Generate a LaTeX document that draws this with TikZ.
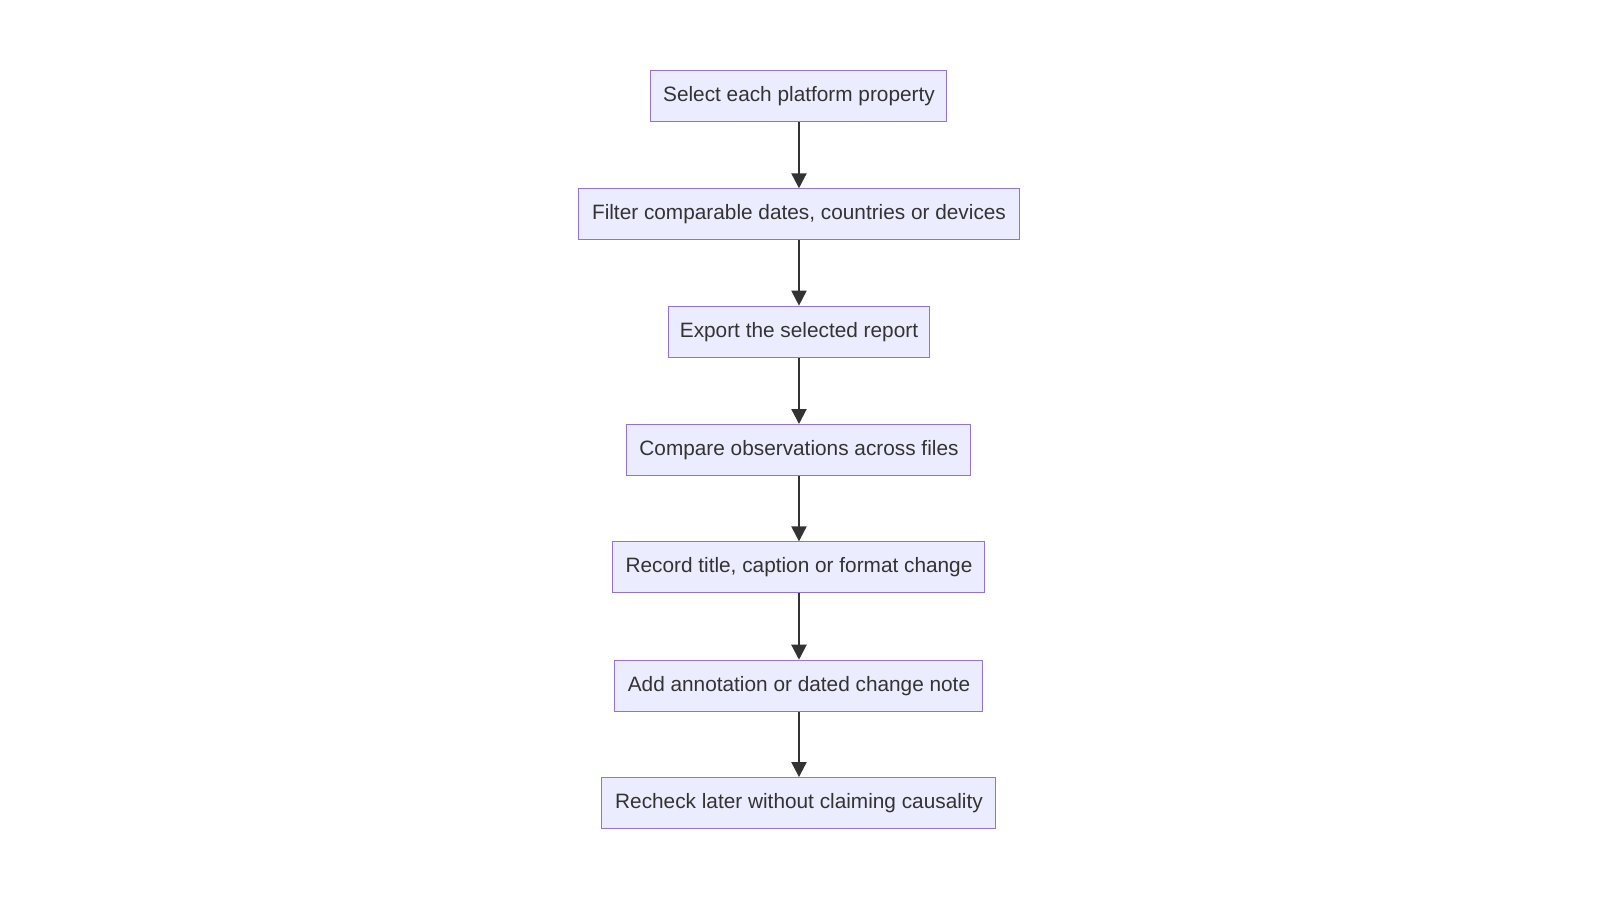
\documentclass[tikz,border=0pt]{standalone}
\usepackage{fontspec}
\setmainfont{Liberation Sans}
\usetikzlibrary{arrows.meta}
\definecolor{bfill}{HTML}{ECECFF}
\definecolor{bdraw}{HTML}{9370DB}
\definecolor{arr}{HTML}{333333}
\begin{document}
\begin{tikzpicture}[x=1.0204pt,y=-1.0204pt,
  box/.style={draw=bdraw,fill=bfill,line width=1pt,minimum height=51pt,inner sep=0pt,font=\fontsize{20.8}{25}\selectfont,text=arr},
  link/.style={draw=arr,line width=2.2pt,-{Triangle[length=15pt,width=15pt]}}]
\useasboundingbox (0,0) rectangle (1568,882);
\node[box,minimum width=296pt] (a) at (783,94.5) {Select each platform property};
\node[box,minimum width=441pt] (b) at (783,210) {Filter comparable dates, countries or devices};
\node[box,minimum width=261pt] (c) at (783,325) {Export the selected report};
\node[box,minimum width=344pt] (d) at (783,441) {Compare observations across files};
\node[box,minimum width=372pt] (e) at (783,556) {Record title, caption or format change};
\node[box,minimum width=368pt] (f) at (783,672) {Add annotation or dated change note};
\node[box,minimum width=394pt] (g) at (783,787) {Recheck later without claiming causality};
\foreach \s/\t in {a/b,b/c,c/d,d/e,e/f,f/g} \draw[link] (\s) -- (\t);
\end{tikzpicture}
\end{document}
